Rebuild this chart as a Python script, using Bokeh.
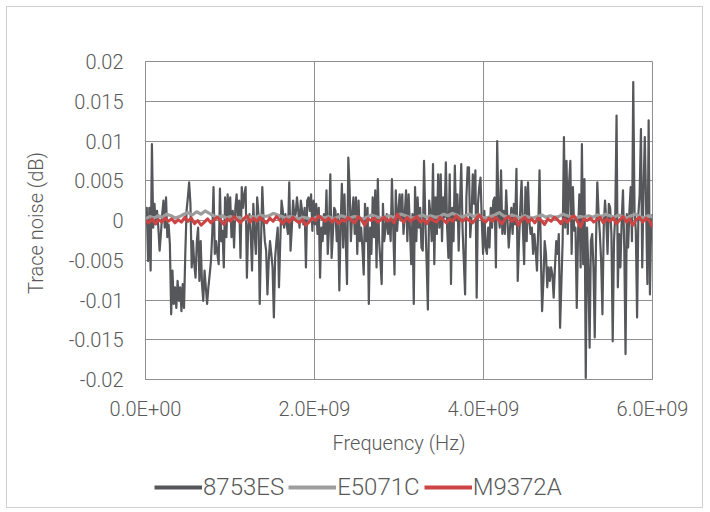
from bokeh.plotting import figure
from bokeh.layouts import column
from bokeh.models import Range1d, FixedTicker, Legend, LegendItem
from bokeh.embed import file_html
from bokeh.resources import INLINE
import numpy as np

# ---------------- data ----------------
series_names = ["8753ES", "E5071C", "M9372A"]
f_start = 0.0
f_stop = 6.0e9

noise_8753ES = [
    -0.0005, 0.0016, -0.0051, 0.0016, -0.0063, 0.0096, -0.0009, 0.0021, -0.0005, 0.0012,
    -0.0009, -0.0038, -0.0017, 0.0008, 0.0025, -0.0009, 0.0029, -0.0021, -0.0005, -0.0030,
    -0.0118, -0.0063, -0.0105, -0.0084, -0.0110, -0.0076, -0.0101, -0.0084, -0.0114, -0.0080,
    -0.0110, -0.0042, 0.0012, 0.0029, 0.0048, 0.0021, -0.0059, -0.0026, -0.0055, -0.0072,
    -0.0026, -0.0009, -0.0076, -0.0026, -0.0080, -0.0101, -0.0063, -0.0084, -0.0105, -0.0084,
    -0.0068, -0.0051, -0.0017, 0.0042, -0.0042, -0.0026, -0.0042, -0.0055, 0.0040, -0.0026,
    -0.0013, -0.0059, 0.0029, -0.0021, 0.0033, 0.0000,
    0.0029, -0.0021, 0.0012, -0.0034, 0.0016, 0.0033, 0.0000, 0.0025, -0.0047, 0.0042,
    0.0016, 0.0033, 0.0042, -0.0072, -0.0009, 0.0008, -0.0017, -0.0063, 0.0021, -0.0017,
    -0.0042, 0.0029, 0.0008, -0.0105, -0.0026, 0.0042, 0.0000, -0.0026, -0.0038, -0.0093,
    -0.0051, -0.0026, -0.0042, -0.0059, -0.0122, -0.0047, -0.0026, -0.0009, -0.0084, -0.0026,
    0.0025, 0.0012, -0.0009, 0.0008, -0.0005, -0.0017, 0.0048, -0.0038, -0.0009, 0.0025,
    0.0004, 0.0008, 0.0029, 0.0012, -0.0009, 0.0025, 0.0012, -0.0005, 0.0016, -0.0059,
    0.0025, 0.0029, 0.0012, 0.0033, -0.0013, 0.0025, -0.0005,
    0.0021, -0.0017, 0.0016, -0.0072, -0.0009, -0.0026, 0.0008, -0.0017, 0.0038, -0.0042,
    -0.0009, 0.0058, -0.0047, -0.0017, 0.0016, 0.0012, -0.0026, 0.0008, -0.0088, -0.0009,
    0.0046, -0.0034, 0.0033, -0.0026, -0.0080, 0.0079, 0.0042, -0.0026, 0.0008, 0.0029,
    -0.0017, 0.0029, -0.0042, 0.0025, -0.0026, -0.0009, -0.0034, -0.0068, 0.0021, -0.0026,
    0.0016, -0.0105, -0.0009, -0.0042, 0.0029, -0.0021, 0.0038, -0.0059, 0.0052, -0.0026,
    -0.0051, -0.0080, 0.0021, -0.0026, -0.0009, 0.0008, -0.0017, 0.0000, -0.0026, 0.0052,
    -0.0009, -0.0068, 0.0038, -0.0013, 0.0012, 0.0033, 0.0000,
    0.0033, -0.0017, 0.0008, 0.0038, -0.0026, 0.0033, -0.0009, -0.0055, 0.0008, -0.0105,
    0.0042, -0.0026, 0.0029, -0.0009, 0.0016, -0.0034, -0.0038, 0.0075, 0.0000, -0.0051,
    -0.0112, 0.0025, 0.0008, -0.0026, 0.0071, -0.0055, 0.0029, -0.0017, 0.0058, -0.0009,
    0.0058, -0.0026, 0.0029, 0.0004, 0.0073, -0.0009, -0.0047, 0.0058, -0.0080, 0.0016,
    -0.0026, 0.0069, 0.0000, 0.0033, -0.0038, 0.0021, 0.0071, -0.0009, -0.0051, -0.0093,
    0.0029, 0.0067, 0.0067, -0.0021, 0.0004, 0.0058, 0.0021, 0.0063, -0.0097, 0.0021,
    0.0042, 0.0054, 0.0000, -0.0042, 0.0012, -0.0034,
    -0.0042, -0.0009, -0.0034, 0.0016, -0.0009, 0.0025, 0.0029, -0.0059, 0.0100, 0.0008,
    -0.0009, 0.0063, -0.0017, 0.0012, -0.0017, 0.0038, 0.0000, -0.0034, -0.0009, 0.0016,
    -0.0017, 0.0021, -0.0005, 0.0065, -0.0076, -0.0026, 0.0015, 0.0050, -0.0009, -0.0055,
    0.0042, -0.0026, 0.0048, 0.0000, -0.0017, -0.0009, -0.0042, -0.0017, -0.0038, -0.0063,
    -0.0009, 0.0063, -0.0042, -0.0114, -0.0076, -0.0026, -0.0042, -0.0084, -0.0059, -0.0076,
    -0.0059, -0.0068, -0.0097, -0.0059, -0.0026, -0.0042, -0.0017, -0.0135, -0.0080, -0.0026,
    0.0105, -0.0009, 0.0075, -0.0017, 0.0046,
    0.0075, -0.0042, 0.0042, -0.0013, -0.0009, -0.0110, -0.0017, 0.0033, -0.0059, 0.0096,
    -0.0055, 0.0052, -0.0198, -0.0009, -0.0059, -0.0160, -0.0026, -0.0017, -0.0059, -0.0147,
    -0.0026, 0.0048, 0.0008, -0.0017, -0.0051, -0.0118, -0.0009, 0.0025, 0.0000, -0.0042,
    0.0021, 0.0016, -0.0017, -0.0152, -0.0026, 0.0008, 0.0132, -0.0084, -0.0017, -0.0059,
    0.0000, 0.0038, -0.0034, -0.0168, 0.0008, -0.0034, 0.0012, 0.0042, -0.0026, 0.0174,
    0.0012, -0.0013, -0.0122, 0.0008, 0.0033, 0.0115, -0.0059, 0.0038, 0.0105, 0.0021,
    -0.0080, 0.0126, -0.0093, 0.0000, 0.0008,
]

noise_E5071C = [
    0.0002, 0.0005, 0.0003, 0.0006, 0.0004, 0.0008, 0.0006, 0.0003, 0.0005, 0.0008,
    0.0010, 0.0007, 0.0011, 0.0008, 0.0012, 0.0009, 0.0006, 0.0004, 0.0006, 0.0003,
    0.0005, 0.0002, 0.0004, 0.0001, 0.0003, 0.0005, 0.0004, 0.0007, 0.0005, 0.0006,
    0.0009, 0.0007, 0.0005, 0.0003, 0.0005, 0.0004, 0.0002, 0.0004, 0.0003, 0.0001,
    0.0004, 0.0005, 0.0003, 0.0005, 0.0002, 0.0004, 0.0006, 0.0004, 0.0003, 0.0005,
    0.0004, 0.0002, 0.0004, 0.0007, 0.0005, 0.0003, 0.0004, 0.0006, 0.0004, 0.0005,
    0.0008, 0.0006, 0.0004, 0.0003, 0.0005, 0.0007, 0.0004, 0.0006, 0.0004, 0.0005,
    0.0008, 0.0006, 0.0009, 0.0007, 0.0004, 0.0006, 0.0008, 0.0005, 0.0007, 0.0004,
    0.0003, 0.0005, 0.0007, 0.0010, 0.0006, 0.0004, 0.0007, 0.0005, 0.0003, 0.0006,
    0.0004, 0.0003, 0.0005, 0.0007, 0.0004, 0.0006, 0.0004, 0.0005, 0.0008, 0.0006,
    0.0004, 0.0003, 0.0005, 0.0004, 0.0006, 0.0004, 0.0007, 0.0005, 0.0008, 0.0006,
    0.0004, 0.0007, 0.0005, 0.0003, 0.0006, 0.0008, 0.0005, 0.0003, 0.0006, 0.0004,
]

noise_M9372A = [
    0.0000, -0.0003, 0.0002, -0.0004, 0.0001, -0.0002, 0.0003, -0.0001, 0.0002, -0.0003,
    0.0001, -0.0002, 0.0004, -0.0001, 0.0003, -0.0004, 0.0000, -0.0006, -0.0002, 0.0002,
    -0.0003, 0.0001, 0.0004, 0.0000, -0.0005, 0.0002, -0.0001, 0.0005, 0.0001, -0.0003,
    0.0002, 0.0006, -0.0002, 0.0003, -0.0001, 0.0004, 0.0000, -0.0003, 0.0003, -0.0001,
    0.0005, 0.0001, -0.0004, 0.0002, -0.0002, 0.0004, 0.0000, -0.0003, 0.0001, -0.0006,
    -0.0002, 0.0003, 0.0000, 0.0006, 0.0002, -0.0001, 0.0003, -0.0002, 0.0002, -0.0004,
    0.0001, -0.0001, 0.0004, 0.0000, -0.0003, 0.0005, 0.0001, -0.0006, 0.0002, 0.0000,
    0.0003, -0.0002, 0.0001, 0.0004, -0.0001, 0.0002, -0.0003, 0.0008, 0.0002, -0.0002,
    0.0004, -0.0001, 0.0002, 0.0005, -0.0002, 0.0001, -0.0004, 0.0003, 0.0000, -0.0002,
    0.0004, 0.0001, -0.0003, 0.0002, -0.0001, 0.0006, 0.0002, -0.0001, 0.0003, 0.0000,
    -0.0003, 0.0002, 0.0007, 0.0001, -0.0002, 0.0003, -0.0001, 0.0004, 0.0000, -0.0004,
    0.0002, 0.0005, -0.0001, 0.0003, -0.0006, 0.0001, 0.0004, -0.0002, 0.0002, -0.0003,
    0.0003, 0.0000, -0.0005, 0.0002, -0.0001, 0.0004, 0.0001, -0.0004, 0.0002, -0.0002,
    0.0003, 0.0006, -0.0001, -0.0008, 0.0002, 0.0000, 0.0003, -0.0002, 0.0001, 0.0004,
    -0.0003, 0.0002, -0.0001, 0.0003, -0.0004, 0.0001, 0.0005, -0.0002, 0.0002, -0.0006,
    0.0001, 0.0004, -0.0002, 0.0003, 0.0000, -0.0008,
]

y_ticks = [-0.02, -0.015, -0.01, -0.005, 0.0, 0.005, 0.01, 0.015, 0.02]
y_tick_labels = ["-0.02", "-0.015", "-0.01", "-0.005", "0", "0.005", "0.01", "0.015", "0.02"]
x_ticks = [0.0, 2.0e9, 4.0e9, 6.0e9]
x_tick_labels = ["0.0E+00", "2.0E+09", "4.0E+09", "6.0E+09"]

# ---------------- figure ----------------
FONT = "'Roboto Light', Roboto"
TXT = "#595959"
GRID = "#8f8f8f"
colors = ["#55575a", "#9d9d9d", "#cc4444"]
widths = [2.2, 3.2, 3.0]

p = figure(width=695, height=455, output_backend="svg", toolbar_location=None,
           x_range=Range1d(f_start, f_stop), y_range=Range1d(-0.02, 0.02),
           min_border_left=138, min_border_right=50, min_border_top=54, min_border_bottom=83,
           background_fill_color="white", border_fill_color="white",
           outline_line_color=GRID, outline_line_width=1)

renderers = []
for name, vals, c, w in zip(series_names, [noise_8753ES, noise_E5071C, noise_M9372A], colors, widths):
    xs = np.linspace(f_start, f_stop, len(vals))
    r = p.line(xs, vals, line_color=c, line_width=w, line_join="round")
    renderers.append(r)

p.yaxis.ticker = FixedTicker(ticks=y_ticks)
p.yaxis.major_label_overrides = dict(zip(y_ticks, y_tick_labels))
p.xaxis.ticker = FixedTicker(ticks=x_ticks)
p.xaxis.major_label_overrides = dict(zip(x_ticks, x_tick_labels))

for ax in (p.xaxis[0], p.yaxis[0]):
    ax.major_tick_line_color = None
    ax.minor_tick_line_color = None
    ax.axis_line_color = GRID
    ax.major_label_text_font = FONT
    ax.major_label_text_font_size = "20px"
    ax.major_label_text_color = TXT
    ax.axis_label_text_font = FONT
    ax.axis_label_text_font_size = "20px"
    ax.axis_label_text_color = TXT
    ax.axis_label_text_font_style = "normal"

p.yaxis.axis_label = "Trace noise  (dB)"
p.xaxis.axis_label = "Frequency (Hz)"
p.yaxis.major_label_standoff = 16
p.yaxis.axis_label_standoff = 18
p.xaxis.major_label_standoff = 11
p.xaxis.axis_label_standoff = 7

p.xgrid.ticker = FixedTicker(ticks=x_ticks)
p.ygrid.ticker = FixedTicker(ticks=y_ticks)
p.xgrid.grid_line_color = GRID
p.ygrid.grid_line_color = GRID

# legend in its own strip below the chart (its frame is aligned with the chart's frame)
lf = figure(width=695, height=45, output_backend="svg", toolbar_location=None,
            x_range=Range1d(0, 1), y_range=Range1d(0, 1),
            min_border=0, outline_line_color=None,
            background_fill_color="white", border_fill_color="white")
lf.axis.visible = False
lf.grid.visible = False
leg_renderers = []
for c, w in zip(colors, widths):
    leg_renderers.append(lf.line([np.nan, np.nan], [np.nan, np.nan], line_color=c, line_width=4))

legend = Legend(items=[LegendItem(label=n, renderers=[r]) for n, r in zip(series_names, leg_renderers)],
                orientation="horizontal", location=(9, 6),
                label_text_font=FONT, label_text_font_size="24px", label_text_color=TXT,
                glyph_width=48, glyph_height=26, label_height=26, label_standoff=1, spacing=4,
                padding=0, margin=0, border_line_color=None, background_fill_alpha=0)
lf.add_layout(legend, "center")

layout = column(p, lf, spacing=0,
                styles={"border": "1px solid #d0d0d0", "margin-left": "6px", "margin-top": "6px"})

open("out.html", "w").write(file_html(layout, INLINE))
